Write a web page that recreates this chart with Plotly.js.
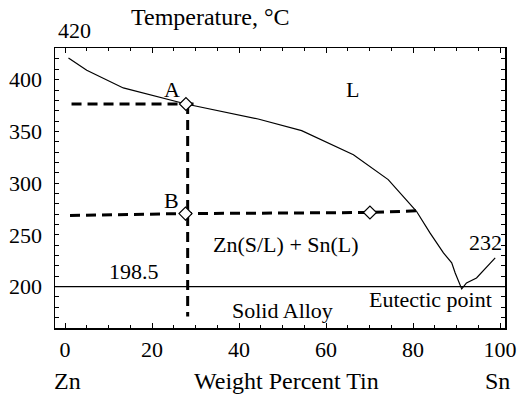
<!DOCTYPE html>
<html>
<head>
<meta charset="utf-8">
<script src="https://cdn.plot.ly/plotly-3.0.1.min.js"></script>
<style>html,body{margin:0;padding:0;background:#fff;}#chart{width:517px;height:395px;}</style>
</head>
<body>
<div id="chart"></div>
<script>
// Liquidus curve (weight percent Sn vs temperature, °C)
var liquidusX = [0.8, 5.0, 13.4, 27.8, 44.4, 54.4, 66.3, 74.3, 80.8, 83.9, 87.0, 88.9, 89.7, 90.4, 91.2, 92.3, 93.9, 94.6, 98.9];
var liquidusY = [421, 409, 392, 376.5, 362, 350.7, 327.5, 303.4, 272.8, 251.9, 232.6, 222.9, 213.2, 206.8, 197.8, 203.6, 207.4, 208.4, 227.7];

// Eutectic isotherm
var eutecticTemp = 200;

// Construction lines for point A
var lineAHX = [1.5, 29.9];
var lineAHY = [376.5, 376.5];
var lineAVX = [28.2, 28.2];
var lineAVY = [376.5, 171];

// Construction line for point B (tie line)
var lineBX = [1.15, 27.6, 70.1, 81.2];
var lineBY = [268.8, 270.6, 271.6, 273.3];

// Diamond markers
var pointsX = [27.8, 27.7, 70.1];
var pointsY = [376.5, 270.6, 271.6];

// Tick values
var xTickVals = [0, 20, 40, 60, 80, 100];
var xTickText = ['0', '20', '40', '60', '80', '100'];
var yTickVals = [200, 250, 300, 350, 400];
var yTickText = ['200', '250', '300', '350', '400'];

var serif = 'Liberation Serif';
var dashStyle = {color: 'black', width: 3, dash: '10px,6px'};

var traces = [
  {x: liquidusX, y: liquidusY, mode: 'lines', line: {color: 'black', width: 1.2}, hoverinfo: 'skip'},
  {x: lineAHX, y: lineAHY, mode: 'lines', line: dashStyle, hoverinfo: 'skip'},
  {x: lineAVX, y: lineAVY, mode: 'lines', line: dashStyle, hoverinfo: 'skip'},
  {x: lineBX, y: lineBY, mode: 'lines', line: dashStyle, hoverinfo: 'skip'},
  {x: pointsX, y: pointsY, mode: 'markers', marker: {symbol: 'diamond', size: 10, color: 'white', line: {color: 'black', width: 1.2}}, hoverinfo: 'skip'}
];

var W = 450, H = 280, L = 55, T = 48; // plot area in pixels (for paper placement)
function annD(text, x, y) {
  return {text: text, x: x, y: y, xref: 'x', yref: 'y', showarrow: false,
          font: {family: serif, size: 22, color: 'black'}, xanchor: 'center', yanchor: 'middle'};
}
function annP(text, px, py, size) {
  return {text: text, x: (px - L) / W, y: (T + H - py) / H, xref: 'paper', yref: 'paper', showarrow: false,
          font: {family: serif, size: size || 22, color: 'black'}, xanchor: 'center', yanchor: 'middle'};
}

var layout = {
  width: 517, height: 395,
  margin: {l: 55, r: 12, t: 48, b: 67},
  paper_bgcolor: 'white', plot_bgcolor: 'white',
  showlegend: false,
  font: {family: serif, size: 22, color: 'black'},
  xaxis: {
    range: [-2.3, 101.15], tickvals: xTickVals, ticktext: xTickText,
    showgrid: false, zeroline: false, showline: true, linecolor: 'black', linewidth: 1.5,
    mirror: 'ticks', ticks: 'inside', ticklen: 5, tickcolor: 'black', tickwidth: 1,
    minor: {dtick: 5, ticks: 'inside', ticklen: 3, tickcolor: 'black', tickwidth: 1, showgrid: false},
    tickfont: {family: serif, size: 22, color: 'black'}, ticklabelstandoff: 1
  },
  yaxis: {
    range: [160, 430.6], tickvals: yTickVals, ticktext: yTickText,
    showgrid: false, zeroline: false, showline: true, linecolor: 'black', linewidth: 1.5,
    mirror: 'ticks', ticks: 'inside', ticklen: 4, tickcolor: 'black', tickwidth: 1,
    minor: {dtick: 10, ticks: 'inside', ticklen: 4, tickcolor: 'black', tickwidth: 1, showgrid: false},
    tickfont: {family: serif, size: 22, color: 'black'}, ticklabelstandoff: 7
  },
  shapes: [
    {type: 'line', xref: 'paper', x0: 0, x1: 1, yref: 'y', y0: eutecticTemp, y1: eutecticTemp,
     line: {color: 'black', width: 1.2}}
  ],
  annotations: [
    annP('420', 74, 30, 22),
    annP('Temperature, °C', 210, 17, 24),
    annD('A', 24.7, 390.3),
    annD('L', 66.0, 390.3),
    annD('B', 24.5, 283.1),
    annD('Zn(S/L) + Sn(L)', 50.7, 240.6),
    annD('232', 96.6, 242.5),
    annD('198.5', 15.9, 214.5),
    annD('Eutectic point', 84.1, 187.4),
    annD('Solid Alloy', 50.1, 176.8),
    annP('Zn', 67, 381, 24),
    annP('Weight Percent Tin', 286, 381, 24),
    annP('Sn', 497, 381, 24)
  ]
};

Plotly.newPlot('chart', traces, layout, {staticPlot: true, displayModeBar: false});
</script>
</body>
</html>
